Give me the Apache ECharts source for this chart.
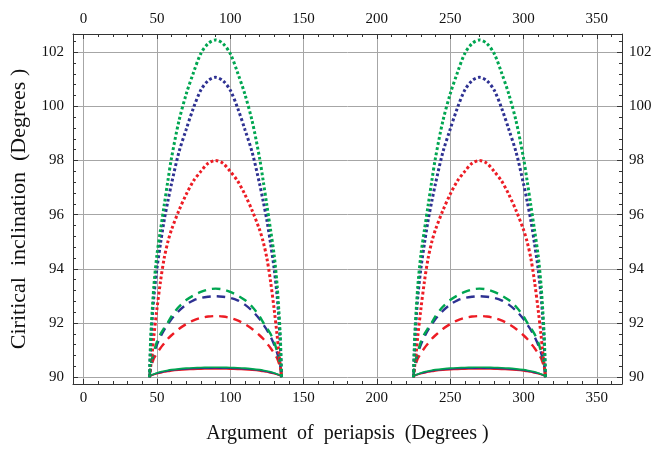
<!DOCTYPE html>
<html>
<head>
<meta charset="utf-8">
<script src="https://cdn.jsdelivr.net/npm/echarts@6/dist/echarts.min.js"></script>
<style>html,body{margin:0;padding:0;background:#fff;}#c{width:655px;height:449px;}</style>
</head>
<body>
<div id="c"></div>
<script>
// Argument of periapsis sample points (degrees), first and second lobe
const omegaLobe1 = [45,45.5,46,47,48,50,52.5,55,57.5,60,65,70,75,80,85,90,95,100,105,110,115,120,122.5,125,127.5,130,132,133,134,134.5,135];
const omegaLobe2 = [225,225.5,226,227,228,230,232.5,235,237.5,240,245,250,255,260,265,270,275,280,285,290,295,300,302.5,305,307.5,310,312,313,314,314.5,315];

// Critical inclination (degrees) — same shape in both lobes
const dottedGreen = [90.0,91.0,91.7,92.6,93.4,94.5,95.45,96.35,97.25,98.1,99.45,100.45,101.25,101.95,102.32,102.45,102.32,101.95,101.25,100.45,99.45,98.1,97.25,96.35,95.45,94.5,93.4,92.6,91.7,91.0,90.0];
const dottedBlue  = [90.0,90.8,91.4,92.3,93.0,94.0,94.95,95.8,96.5,97.15,98.3,99.15,99.95,100.6,100.95,101.07,100.95,100.6,99.95,99.15,98.3,97.15,96.5,95.8,94.95,94.0,93.0,92.3,91.4,90.8,90.0];
const dottedRed   = [90.0,90.25,90.5,91.0,91.55,92.5,93.55,94.4,95.0,95.45,96.15,96.75,97.25,97.6,97.9,98.0,97.9,97.6,97.25,96.75,96.15,95.45,95.0,94.4,93.55,92.5,91.55,91.0,90.5,90.25,90.0];
const dashedGreen = [90.0,90.35,90.5,90.75,90.95,91.3,91.6,91.82,92.02,92.25,92.6,92.85,93.02,93.15,93.24,93.27,93.24,93.15,93.02,92.85,92.6,92.25,92.02,91.82,91.6,91.3,90.95,90.75,90.5,90.35,90.0];
const dashedBlue  = [90.0,90.3,90.45,90.7,90.9,91.2,91.5,91.75,91.95,92.15,92.45,92.68,92.84,92.93,92.97,92.99,92.97,92.93,92.84,92.68,92.45,92.15,91.95,91.75,91.5,91.2,90.9,90.7,90.45,90.3,90.0];
const dashedRed   = [90.0,90.25,90.38,90.55,90.7,90.88,91.08,91.25,91.42,91.55,91.78,91.96,92.1,92.19,92.24,92.26,92.24,92.19,92.1,91.96,91.78,91.55,91.42,91.25,91.08,90.88,90.7,90.55,90.38,90.25,90.0];
const solidGreen  = [90.0,90.05,90.07,90.1,90.12,90.16,90.2,90.23,90.26,90.28,90.31,90.335,90.35,90.36,90.365,90.37,90.365,90.36,90.35,90.335,90.31,90.28,90.26,90.23,90.2,90.16,90.12,90.1,90.07,90.05,90.0];
const solidBlue   = [90.0,90.045,90.065,90.09,90.11,90.145,90.18,90.21,90.235,90.255,90.285,90.305,90.32,90.33,90.335,90.34,90.335,90.33,90.32,90.305,90.285,90.255,90.235,90.21,90.18,90.145,90.11,90.09,90.065,90.045,90.0];
const solidRed    = [90.0,90.04,90.06,90.08,90.1,90.13,90.16,90.19,90.21,90.23,90.255,90.275,90.29,90.3,90.305,90.31,90.305,90.3,90.29,90.275,90.255,90.23,90.21,90.19,90.16,90.13,90.1,90.08,90.06,90.04,90.0];

// Tick labels
const xTicks = [0,50,100,150,200,250,300,350];
const xMinor = [10,20,30,40,60,70,80,90,110,120,130,140,160,170,180,190,210,220,230,240,260,270,280,290,310,320,330,340,360];
const yTicks = [90,92,94,96,98,100,102];
const yMinor = [90.4,90.8,91.2,91.6,92.4,92.8,93.2,93.6,94.4,94.8,95.2,95.6,96.4,96.8,97.2,97.6,98.4,98.8,99.2,99.6,100.4,100.8,101.2,101.6,102.4];

const GREEN = '#00a651', BLUE = '#2e3192', RED = '#ed1c24';
const FONT = 'Liberation Serif';

function mk(omega, vals, color, style, z) {
  let ls;
  if (style === 'dotted') ls = {color, width: 3, type: [2.8, 2.4], cap: 'butt'};
  else if (style === 'dashed') ls = {color, width: 2.4, type: [8.5, 6], cap: 'butt'};
  else ls = {color, width: 1.6, type: 'solid'};
  return {
    type: 'line', xAxisIndex: 0, yAxisIndex: 0, showSymbol: false, smooth: 0.3,
    animation: false, silent: true, z: z,
    lineStyle: ls,
    data: omega.map((x, k) => [x, vals[k]])
  };
}
const curves = [
  [solidRed, RED, 'solid'], [solidBlue, BLUE, 'solid'], [solidGreen, GREEN, 'solid'],
  [dashedRed, RED, 'dashed'], [dashedBlue, BLUE, 'dashed'], [dashedGreen, GREEN, 'dashed'],
  [dottedRed, RED, 'dotted'], [dottedBlue, BLUE, 'dotted'], [dottedGreen, GREEN, 'dotted']
];
const series = [];
curves.forEach((c, i) => {
  series.push(mk(omegaLobe1, c[0], c[1], c[2], 3 + i));
  series.push(mk(omegaLobe2, c[0], c[1], c[2], 3 + i));
});

const XMIN = -7.2, XMAX = 367.2, YMIN = 89.75, YMAX = 102.67;
const lineC = '#333';
const labelStyle = {color: '#111', fontFamily: FONT, fontSize: 15};

function xAxisMajor(pos, showName) {
  return {
    type: 'value', position: pos, min: XMIN, max: XMAX,
    name: showName ? 'Argument  of  periapsis  (Degrees )' : '',
    nameLocation: 'middle', nameGap: 40,
    nameTextStyle: {color: '#111', fontFamily: FONT, fontSize: 20},
    axisLine: {show: true, onZero: false, lineStyle: {color: lineC, width: 1}},
    axisTick: {show: true, inside: true, length: 5, customValues: xTicks, lineStyle: {color: lineC}},
    axisLabel: {show: true, customValues: xTicks, margin: 7, ...labelStyle},
    splitLine: {show: pos === 'bottom', lineStyle: {color: '#a6a6a6', width: 1}}
  };
}
function xAxisMinor(pos) {
  return {
    type: 'value', position: pos, min: XMIN, max: XMAX,
    axisLine: {show: false, onZero: false},
    axisTick: {show: true, inside: true, length: 3, customValues: xMinor, lineStyle: {color: lineC}},
    axisLabel: {show: false, customValues: xMinor},
    splitLine: {show: false}
  };
}
function yAxisMajor(pos, showName) {
  return {
    type: 'value', position: pos, min: YMIN, max: YMAX,
    name: showName ? 'Ciritical  inclination  (Degrees )' : '',
    nameLocation: 'middle', nameGap: 38, nameRotate: 90,
    nameTextStyle: {color: '#111', fontFamily: FONT, fontSize: 22},
    axisLine: {show: true, onZero: false, lineStyle: {color: lineC, width: 1}},
    axisTick: {show: true, inside: true, length: 5, customValues: yTicks, lineStyle: {color: lineC}},
    axisLabel: {show: true, customValues: yTicks, margin: pos === 'left' ? 9 : 7, ...labelStyle},
    splitLine: {show: pos === 'left', lineStyle: {color: '#a6a6a6', width: 1}}
  };
}
function yAxisMinor(pos) {
  return {
    type: 'value', position: pos, min: YMIN, max: YMAX,
    axisLine: {show: false, onZero: false},
    axisTick: {show: true, inside: true, length: 3, customValues: yMinor, lineStyle: {color: lineC}},
    axisLabel: {show: false, customValues: yMinor},
    splitLine: {show: false}
  };
}

const chart = echarts.init(document.getElementById('c'), null, {renderer: 'canvas'});
chart.setOption({
  animation: false,
  backgroundColor: '#fff',
  grid: {left: 73, right: 33, top: 34, bottom: 65, containLabel: false},
  xAxis: [xAxisMajor('bottom', true), xAxisMajor('top', false), xAxisMinor('bottom'), xAxisMinor('top')],
  yAxis: [yAxisMajor('left', true), yAxisMajor('right', false), yAxisMinor('left'), yAxisMinor('right')],
  series: series
});
</script>
</body>
</html>
